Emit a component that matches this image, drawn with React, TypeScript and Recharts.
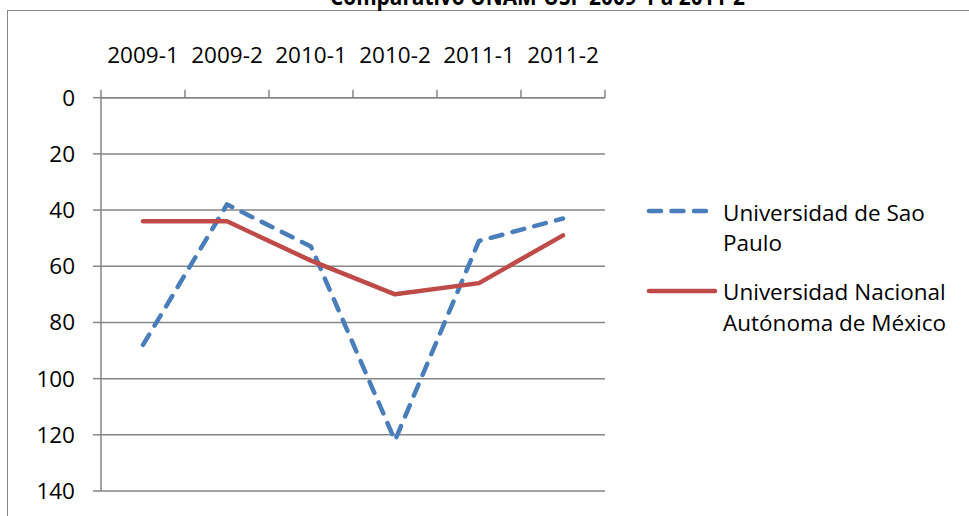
import React from 'react';
import { LineChart, Line, XAxis, YAxis, CartesianGrid, Legend } from 'recharts';

const categories = ['2009-1', '2009-2', '2010-1', '2010-2', '2011-1', '2011-2'];
const uspValues = [88, 38, 53, 122, 51, 43];
const unamValues = [44, 44, 58, 70, 66, 49];
const yTicks = [0, 20, 40, 60, 80, 100, 120, 140];
const titleText = 'Comparativo UNAM-USP 2009-1 a 2011-2';
const uspName = 'Universidad de Sao Paulo';
const unamName = 'Universidad Nacional Autónoma de México';
const uspLegendLines = ['Universidad de Sao', 'Paulo'];
const unamLegendLines = ['Universidad Nacional', 'Autónoma de México'];

const data = categories.map((c, i) => ({ cat: c, usp: uspValues[i], unam: unamValues[i] }));

const FONT = '"Open Sans", sans-serif';
const GRAY = '#868686';
const BLUE = '#4A7EBB';
const RED = '#BE4B48';
const HALF_BAND = 42;

const XTick = (props: any) => {
  const { x, y, payload, index } = props;
  const last = index === categories.length - 1;
  return (
    <g>
      <line x1={x - HALF_BAND} x2={x - HALF_BAND} y1={y} y2={y + 8} stroke={GRAY} strokeWidth={1.5} />
      {last && <line x1={x + HALF_BAND} x2={x + HALF_BAND} y1={y} y2={y + 8} stroke={GRAY} strokeWidth={1.5} />}
      <text x={x} y={y - 26.5} textAnchor="middle" fill="#000" fontSize={22.5} fontFamily={FONT}>
        {payload.value}
      </text>
    </g>
  );
};

const LegendContent = () => (
  <div style={{ position: 'absolute', left: 0, top: 0, fontFamily: FONT, fontSize: 22.5, color: '#000' }}>
    <svg style={{ position: 'absolute', left: 640, top: 200 }} width={90} height={110}>
      <line x1={9} x2={66} y1={11} y2={11} stroke={BLUE} strokeWidth={4.5} strokeLinecap="round" strokeDasharray="12 10.5" />
      <line x1={9} x2={75} y1={91} y2={91} stroke={RED} strokeWidth={4.5} strokeLinecap="round" />
    </svg>
    {uspLegendLines.map((t, i) => (
      <div key={'u' + i} style={{ position: 'absolute', left: 723, top: 198 + i * 30, lineHeight: '30px', whiteSpace: 'nowrap' }}>{t}</div>
    ))}
    {unamLegendLines.map((t, i) => (
      <div key={'m' + i} style={{ position: 'absolute', left: 723, top: 277 + i * 31, lineHeight: '30px', whiteSpace: 'nowrap' }}>{t}</div>
    ))}
  </div>
);

export default function App() {
  return (
    <div style={{ position: 'absolute', left: 0, top: 0, width: 969, height: 516, overflow: 'hidden', background: '#fff' }}>
      <div style={{ position: 'absolute', left: 7, top: 10, width: 1000, height: 600, border: `1.7px solid ${GRAY}`, boxSizing: 'border-box' }} />
      <svg style={{ position: 'absolute', left: 0, top: 0 }} width={969} height={30}>
        <text x={537.5} y={5} textAnchor="middle" fontFamily={FONT} fontWeight={700} fontSize={23} fill="#000" textLength={415} lengthAdjust="spacingAndGlyphs">
          {titleText}
        </text>
      </svg>
      <div style={{ position: 'absolute', left: 0, top: 0 }}>
        <LineChart width={969} height={516} data={data} margin={{ top: 0, right: 364, bottom: 25, left: 0 }}>
          <CartesianGrid vertical={false} stroke={GRAY} strokeWidth={1.5} />
          <XAxis
            dataKey="cat"
            orientation="top"
            height={97.7}
            padding={{ left: HALF_BAND, right: HALF_BAND }}
            axisLine={{ stroke: GRAY, strokeWidth: 1.5 }}
            tickLine={false}
            tickSize={8}
            tickMargin={0}
            interval={0}
            tick={<XTick />}
          />
          <YAxis
            reversed
            domain={[0, 140]}
            ticks={yTicks}
            width={101}
            interval={0}
            axisLine={{ stroke: GRAY, strokeWidth: 1.5 }}
            tickLine={{ stroke: GRAY, strokeWidth: 1.5 }}
            tickSize={8}
            tickMargin={18}
            tick={{ fill: '#000', fontSize: 22.5, fontFamily: FONT }}
          />
          <Legend content={<LegendContent />} wrapperStyle={{ position: 'absolute', left: 0, top: 0, width: 0, height: 0 }} />
          <Line
            name={uspName}
            dataKey="usp"
            stroke={BLUE}
            strokeWidth={4.5}
            strokeDasharray="12 10.5"
            strokeLinecap="round"
            strokeLinejoin="round"
            dot={false}
            activeDot={false}
            isAnimationActive={false}
          />
          <Line
            name={unamName}
            dataKey="unam"
            stroke={RED}
            strokeWidth={4.5}
            strokeLinecap="round"
            strokeLinejoin="round"
            dot={false}
            activeDot={false}
            isAnimationActive={false}
          />
        </LineChart>
      </div>
    </div>
  );
}
